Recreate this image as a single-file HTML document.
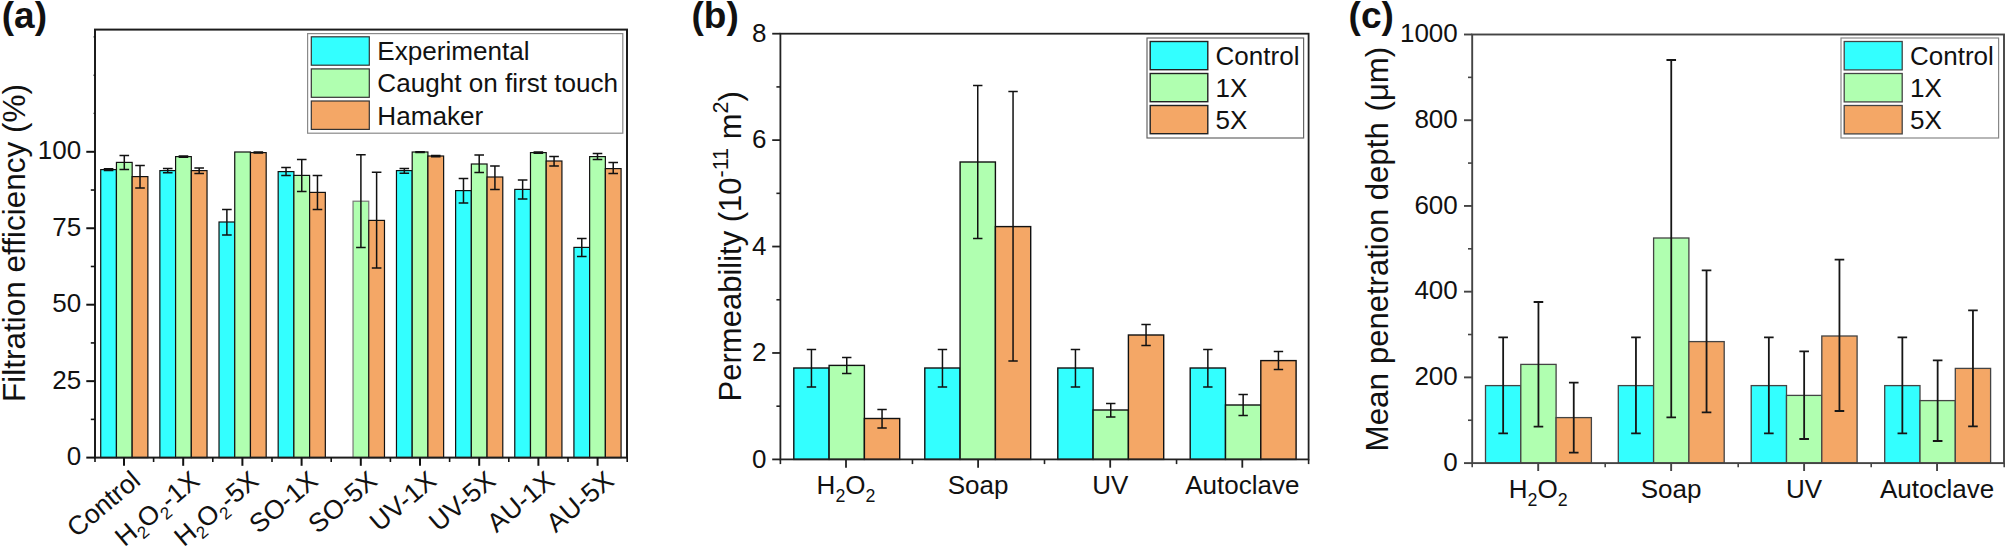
<!DOCTYPE html>
<html lang="en"><head><meta charset="utf-8"><title>Figure</title>
<style>
html,body{margin:0;padding:0;background:#fff;}
svg{display:block;font-family:"Liberation Sans",Arial,sans-serif;fill:#111;}
</style></head><body>
<svg width="2007" height="560" viewBox="0 0 2007 560">
<rect x="0" y="0" width="2007" height="560" fill="#fff"/>
<rect x="100.72" y="169.60" width="15.72" height="288.00" fill="#33ffff" stroke="#111" stroke-width="1.2"/>
<rect x="116.44" y="162.40" width="15.72" height="295.20" fill="#b0ffb0" stroke="#111" stroke-width="1.2"/>
<rect x="132.16" y="176.60" width="15.72" height="281.00" fill="#f4a766" stroke="#111" stroke-width="1.2"/>
<path d="M108.58 168.80V170.60M103.78 168.80h9.6M103.78 170.60h9.6" stroke="#111" stroke-width="1.5" fill="none"/>
<path d="M124.30 155.40V169.40M119.50 155.40h9.6M119.50 169.40h9.6" stroke="#111" stroke-width="1.5" fill="none"/>
<path d="M140.02 165.40V188.00M135.22 165.40h9.6M135.22 188.00h9.6" stroke="#111" stroke-width="1.5" fill="none"/>
<rect x="159.87" y="170.60" width="15.72" height="287.00" fill="#33ffff" stroke="#111" stroke-width="1.2"/>
<rect x="175.59" y="156.60" width="15.72" height="301.00" fill="#b0ffb0" stroke="#111" stroke-width="1.2"/>
<rect x="191.31" y="170.60" width="15.72" height="287.00" fill="#f4a766" stroke="#111" stroke-width="1.2"/>
<path d="M167.73 168.60V172.80M162.93 168.60h9.6M162.93 172.80h9.6" stroke="#111" stroke-width="1.5" fill="none"/>
<path d="M183.45 155.90V157.30M178.65 155.90h9.6M178.65 157.30h9.6" stroke="#111" stroke-width="1.5" fill="none"/>
<path d="M199.17 168.00V173.40M194.37 168.00h9.6M194.37 173.40h9.6" stroke="#111" stroke-width="1.5" fill="none"/>
<rect x="219.02" y="222.00" width="15.72" height="235.60" fill="#33ffff" stroke="#111" stroke-width="1.2"/>
<rect x="234.74" y="152.00" width="15.72" height="305.60" fill="#b0ffb0" stroke="#111" stroke-width="1.2"/>
<rect x="250.46" y="152.60" width="15.72" height="305.00" fill="#f4a766" stroke="#111" stroke-width="1.2"/>
<path d="M226.88 209.60V235.00M222.08 209.60h9.6M222.08 235.00h9.6" stroke="#111" stroke-width="1.5" fill="none"/>
<path d="M258.32 152.10V153.10M253.52 152.10h9.6M253.52 153.10h9.6" stroke="#111" stroke-width="1.5" fill="none"/>
<rect x="278.17" y="171.60" width="15.72" height="286.00" fill="#33ffff" stroke="#111" stroke-width="1.2"/>
<rect x="293.89" y="175.40" width="15.72" height="282.20" fill="#b0ffb0" stroke="#111" stroke-width="1.2"/>
<rect x="309.61" y="192.40" width="15.72" height="265.20" fill="#f4a766" stroke="#111" stroke-width="1.2"/>
<path d="M286.03 167.60V175.40M281.23 167.60h9.6M281.23 175.40h9.6" stroke="#111" stroke-width="1.5" fill="none"/>
<path d="M301.75 159.60V191.40M296.95 159.60h9.6M296.95 191.40h9.6" stroke="#111" stroke-width="1.5" fill="none"/>
<path d="M317.47 175.40V209.60M312.67 175.40h9.6M312.67 209.60h9.6" stroke="#111" stroke-width="1.5" fill="none"/>
<rect x="353.04" y="201.20" width="15.72" height="256.40" fill="#b0ffb0" stroke="#777" stroke-width="1.2"/>
<rect x="368.76" y="220.40" width="15.72" height="237.20" fill="#f4a766" stroke="#111" stroke-width="1.2"/>
<path d="M360.90 154.80V247.60M356.10 154.80h9.6M356.10 247.60h9.6" stroke="#111" stroke-width="1.5" fill="none"/>
<path d="M376.62 172.20V268.00M371.82 172.20h9.6M371.82 268.00h9.6" stroke="#111" stroke-width="1.5" fill="none"/>
<rect x="396.47" y="170.60" width="15.72" height="287.00" fill="#33ffff" stroke="#111" stroke-width="1.2"/>
<rect x="412.19" y="152.00" width="15.72" height="305.60" fill="#b0ffb0" stroke="#111" stroke-width="1.2"/>
<rect x="427.91" y="156.00" width="15.72" height="301.60" fill="#f4a766" stroke="#111" stroke-width="1.2"/>
<path d="M404.33 168.40V173.20M399.53 168.40h9.6M399.53 173.20h9.6" stroke="#111" stroke-width="1.5" fill="none"/>
<path d="M420.05 151.70V152.50M415.25 151.70h9.6M415.25 152.50h9.6" stroke="#111" stroke-width="1.5" fill="none"/>
<path d="M435.77 155.50V156.70M430.97 155.50h9.6M430.97 156.70h9.6" stroke="#111" stroke-width="1.5" fill="none"/>
<rect x="455.62" y="190.60" width="15.72" height="267.00" fill="#33ffff" stroke="#111" stroke-width="1.2"/>
<rect x="471.34" y="164.00" width="15.72" height="293.60" fill="#b0ffb0" stroke="#111" stroke-width="1.2"/>
<rect x="487.06" y="177.00" width="15.72" height="280.60" fill="#f4a766" stroke="#111" stroke-width="1.2"/>
<path d="M463.48 178.40V203.00M458.68 178.40h9.6M458.68 203.00h9.6" stroke="#111" stroke-width="1.5" fill="none"/>
<path d="M479.20 155.00V172.60M474.40 155.00h9.6M474.40 172.60h9.6" stroke="#111" stroke-width="1.5" fill="none"/>
<path d="M494.92 166.00V189.40M490.12 166.00h9.6M490.12 189.40h9.6" stroke="#111" stroke-width="1.5" fill="none"/>
<rect x="514.77" y="189.40" width="15.72" height="268.20" fill="#33ffff" stroke="#111" stroke-width="1.2"/>
<rect x="530.49" y="152.60" width="15.72" height="305.00" fill="#b0ffb0" stroke="#111" stroke-width="1.2"/>
<rect x="546.21" y="161.00" width="15.72" height="296.60" fill="#f4a766" stroke="#111" stroke-width="1.2"/>
<path d="M522.63 180.00V199.00M517.83 180.00h9.6M517.83 199.00h9.6" stroke="#111" stroke-width="1.5" fill="none"/>
<path d="M538.35 152.10V153.30M533.55 152.10h9.6M533.55 153.30h9.6" stroke="#111" stroke-width="1.5" fill="none"/>
<path d="M554.07 156.60V166.00M549.27 156.60h9.6M549.27 166.00h9.6" stroke="#111" stroke-width="1.5" fill="none"/>
<rect x="573.92" y="247.40" width="15.72" height="210.20" fill="#33ffff" stroke="#111" stroke-width="1.2"/>
<rect x="589.64" y="156.60" width="15.72" height="301.00" fill="#b0ffb0" stroke="#111" stroke-width="1.2"/>
<rect x="605.36" y="168.60" width="15.72" height="289.00" fill="#f4a766" stroke="#111" stroke-width="1.2"/>
<path d="M581.78 238.40V256.60M576.98 238.40h9.6M576.98 256.60h9.6" stroke="#111" stroke-width="1.5" fill="none"/>
<path d="M597.50 153.60V159.60M592.70 153.60h9.6M592.70 159.60h9.6" stroke="#111" stroke-width="1.5" fill="none"/>
<path d="M613.22 162.60V173.60M608.42 162.60h9.6M608.42 173.60h9.6" stroke="#111" stroke-width="1.5" fill="none"/>
<rect x="95.0" y="29.6" width="532.0" height="428.0" fill="none" stroke="#1c1c1c" stroke-width="2"/>
<line x1="86.30" y1="457.60" x2="95.00" y2="457.60" stroke="#111" stroke-width="2"/>
<text x="81.20" y="465.10" font-size="26" text-anchor="end" >0</text>
<line x1="86.30" y1="381.15" x2="95.00" y2="381.15" stroke="#111" stroke-width="2"/>
<text x="81.20" y="388.65" font-size="26" text-anchor="end" >25</text>
<line x1="86.30" y1="304.70" x2="95.00" y2="304.70" stroke="#111" stroke-width="2"/>
<text x="81.20" y="312.20" font-size="26" text-anchor="end" >50</text>
<line x1="86.30" y1="228.25" x2="95.00" y2="228.25" stroke="#111" stroke-width="2"/>
<text x="81.20" y="235.75" font-size="26" text-anchor="end" >75</text>
<line x1="86.30" y1="151.80" x2="95.00" y2="151.80" stroke="#111" stroke-width="2"/>
<text x="81.20" y="159.30" font-size="26" text-anchor="end" >100</text>
<line x1="90.80" y1="419.38" x2="95.00" y2="419.38" stroke="#111" stroke-width="1.6"/>
<line x1="90.80" y1="342.93" x2="95.00" y2="342.93" stroke="#111" stroke-width="1.6"/>
<line x1="90.80" y1="266.48" x2="95.00" y2="266.48" stroke="#111" stroke-width="1.6"/>
<line x1="90.80" y1="190.03" x2="95.00" y2="190.03" stroke="#111" stroke-width="1.6"/>
<line x1="93.60" y1="36.90" x2="95.00" y2="36.90" stroke="#111" stroke-width="1.4"/>
<line x1="93.60" y1="75.20" x2="95.00" y2="75.20" stroke="#111" stroke-width="1.4"/>
<line x1="93.60" y1="113.40" x2="95.00" y2="113.40" stroke="#111" stroke-width="1.4"/>
<line x1="124.00" y1="457.60" x2="124.00" y2="465.80" stroke="#111" stroke-width="2"/>
<line x1="153.60" y1="457.60" x2="153.60" y2="462.00" stroke="#111" stroke-width="1.6"/>
<line x1="95.00" y1="457.60" x2="95.00" y2="462.00" stroke="#111" stroke-width="1.6"/>
<text x="142.00" y="483.30" font-size="26.5" text-anchor="end" transform="rotate(-40 142.00 483.30)">Control</text>
<line x1="183.20" y1="457.60" x2="183.20" y2="465.80" stroke="#111" stroke-width="2"/>
<line x1="212.80" y1="457.60" x2="212.80" y2="462.00" stroke="#111" stroke-width="1.6"/>
<text x="201.20" y="483.30" font-size="26.5" text-anchor="end" transform="rotate(-40 201.20 483.30)">H<tspan dy='6' font-size='17'>2</tspan><tspan dy='-6'>O</tspan><tspan dy='6' font-size='17'>2</tspan><tspan dy='-6'>-1X</tspan></text>
<line x1="242.40" y1="457.60" x2="242.40" y2="465.80" stroke="#111" stroke-width="2"/>
<line x1="272.00" y1="457.60" x2="272.00" y2="462.00" stroke="#111" stroke-width="1.6"/>
<text x="260.40" y="483.30" font-size="26.5" text-anchor="end" transform="rotate(-40 260.40 483.30)">H<tspan dy='6' font-size='17'>2</tspan><tspan dy='-6'>O</tspan><tspan dy='6' font-size='17'>2</tspan><tspan dy='-6'>-5X</tspan></text>
<line x1="301.60" y1="457.60" x2="301.60" y2="465.80" stroke="#111" stroke-width="2"/>
<line x1="331.20" y1="457.60" x2="331.20" y2="462.00" stroke="#111" stroke-width="1.6"/>
<text x="319.60" y="483.30" font-size="26.5" text-anchor="end" transform="rotate(-40 319.60 483.30)">SO-1X</text>
<line x1="360.80" y1="457.60" x2="360.80" y2="465.80" stroke="#111" stroke-width="2"/>
<line x1="390.40" y1="457.60" x2="390.40" y2="462.00" stroke="#111" stroke-width="1.6"/>
<text x="378.80" y="483.30" font-size="26.5" text-anchor="end" transform="rotate(-40 378.80 483.30)">SO-5X</text>
<line x1="420.00" y1="457.60" x2="420.00" y2="465.80" stroke="#111" stroke-width="2"/>
<line x1="449.60" y1="457.60" x2="449.60" y2="462.00" stroke="#111" stroke-width="1.6"/>
<text x="438.00" y="483.30" font-size="26.5" text-anchor="end" transform="rotate(-40 438.00 483.30)">UV-1X</text>
<line x1="479.20" y1="457.60" x2="479.20" y2="465.80" stroke="#111" stroke-width="2"/>
<line x1="508.80" y1="457.60" x2="508.80" y2="462.00" stroke="#111" stroke-width="1.6"/>
<text x="497.20" y="483.30" font-size="26.5" text-anchor="end" transform="rotate(-40 497.20 483.30)">UV-5X</text>
<line x1="538.40" y1="457.60" x2="538.40" y2="465.80" stroke="#111" stroke-width="2"/>
<line x1="568.00" y1="457.60" x2="568.00" y2="462.00" stroke="#111" stroke-width="1.6"/>
<text x="556.40" y="483.30" font-size="26.5" text-anchor="end" transform="rotate(-40 556.40 483.30)">AU-1X</text>
<line x1="597.60" y1="457.60" x2="597.60" y2="465.80" stroke="#111" stroke-width="2"/>
<line x1="627.20" y1="457.60" x2="627.20" y2="462.00" stroke="#111" stroke-width="1.6"/>
<text x="615.60" y="483.30" font-size="26.5" text-anchor="end" transform="rotate(-40 615.60 483.30)">AU-5X</text>
<text x="0.00" y="0.00" font-size="31.5" text-anchor="start" transform="translate(24.9 402) rotate(-90)">Filtration efficiency (%)</text>
<rect x="307.6" y="33.6" width="315.2" height="99.6" fill="#fff" stroke="#8a8a8a" stroke-width="1.2"/>
<rect x="311.3" y="36.80" width="58" height="28.4" fill="#33ffff" stroke="#333" stroke-width="1.2"/>
<text x="377.30" y="60.30" font-size="26.1" text-anchor="start" >Experimental</text>
<rect x="311.3" y="68.90" width="58" height="28.4" fill="#b0ffb0" stroke="#333" stroke-width="1.2"/>
<text x="377.30" y="92.40" font-size="26.1" text-anchor="start" >Caught on first touch</text>
<rect x="311.3" y="101.00" width="58" height="28.4" fill="#f4a766" stroke="#333" stroke-width="1.2"/>
<text x="377.30" y="124.50" font-size="26.1" text-anchor="start" >Hamaker</text>
<text x="1.80" y="27.50" font-size="37" text-anchor="start" font-weight="bold">(a)</text>
<rect x="793.80" y="368.00" width="35.30" height="91.40" fill="#33ffff" stroke="#111" stroke-width="1.4"/>
<rect x="829.10" y="365.40" width="35.30" height="94.00" fill="#b0ffb0" stroke="#111" stroke-width="1.4"/>
<rect x="864.40" y="418.50" width="35.30" height="40.90" fill="#f4a766" stroke="#111" stroke-width="1.4"/>
<path d="M811.45 349.60V387.00M806.75 349.60h9.4M806.75 387.00h9.4" stroke="#111" stroke-width="1.5" fill="none"/>
<path d="M846.75 357.60V373.60M842.05 357.60h9.4M842.05 373.60h9.4" stroke="#111" stroke-width="1.5" fill="none"/>
<path d="M882.05 409.50V427.90M877.35 409.50h9.4M877.35 427.90h9.4" stroke="#111" stroke-width="1.5" fill="none"/>
<rect x="924.80" y="368.00" width="35.30" height="91.40" fill="#33ffff" stroke="#111" stroke-width="1.4"/>
<rect x="960.10" y="162.00" width="35.30" height="297.40" fill="#b0ffb0" stroke="#111" stroke-width="1.4"/>
<rect x="995.40" y="226.60" width="35.30" height="232.80" fill="#f4a766" stroke="#111" stroke-width="1.4"/>
<path d="M942.45 349.60V387.00M937.75 349.60h9.4M937.75 387.00h9.4" stroke="#111" stroke-width="1.5" fill="none"/>
<path d="M977.75 85.40V238.60M973.05 85.40h9.4M973.05 238.60h9.4" stroke="#111" stroke-width="1.5" fill="none"/>
<path d="M1013.05 91.40V361.00M1008.35 91.40h9.4M1008.35 361.00h9.4" stroke="#111" stroke-width="1.5" fill="none"/>
<rect x="1057.80" y="368.00" width="35.30" height="91.40" fill="#33ffff" stroke="#111" stroke-width="1.4"/>
<rect x="1093.10" y="410.00" width="35.30" height="49.40" fill="#b0ffb0" stroke="#111" stroke-width="1.4"/>
<rect x="1128.40" y="335.00" width="35.30" height="124.40" fill="#f4a766" stroke="#111" stroke-width="1.4"/>
<path d="M1075.45 349.60V387.00M1070.75 349.60h9.4M1070.75 387.00h9.4" stroke="#111" stroke-width="1.5" fill="none"/>
<path d="M1110.75 403.40V417.00M1106.05 403.40h9.4M1106.05 417.00h9.4" stroke="#111" stroke-width="1.5" fill="none"/>
<path d="M1146.05 324.60V345.60M1141.35 324.60h9.4M1141.35 345.60h9.4" stroke="#111" stroke-width="1.5" fill="none"/>
<rect x="1190.20" y="368.00" width="35.30" height="91.40" fill="#33ffff" stroke="#111" stroke-width="1.4"/>
<rect x="1225.50" y="405.00" width="35.30" height="54.40" fill="#b0ffb0" stroke="#111" stroke-width="1.4"/>
<rect x="1260.80" y="360.60" width="35.30" height="98.80" fill="#f4a766" stroke="#111" stroke-width="1.4"/>
<path d="M1207.85 349.60V387.00M1203.15 349.60h9.4M1203.15 387.00h9.4" stroke="#111" stroke-width="1.5" fill="none"/>
<path d="M1243.15 394.40V415.40M1238.45 394.40h9.4M1238.45 415.40h9.4" stroke="#111" stroke-width="1.5" fill="none"/>
<path d="M1278.45 351.60V369.40M1273.75 351.60h9.4M1273.75 369.40h9.4" stroke="#111" stroke-width="1.5" fill="none"/>
<rect x="780.4" y="33.7" width="528.1999999999999" height="425.7" fill="none" stroke="#222" stroke-width="1.8"/>
<line x1="772.20" y1="459.40" x2="780.40" y2="459.40" stroke="#222" stroke-width="1.8"/>
<text x="766.40" y="467.50" font-size="26" text-anchor="end" >0</text>
<line x1="776.40" y1="406.19" x2="780.40" y2="406.19" stroke="#222" stroke-width="1.6"/>
<line x1="772.20" y1="352.97" x2="780.40" y2="352.97" stroke="#222" stroke-width="1.8"/>
<text x="766.40" y="361.07" font-size="26" text-anchor="end" >2</text>
<line x1="776.40" y1="299.76" x2="780.40" y2="299.76" stroke="#222" stroke-width="1.6"/>
<line x1="772.20" y1="246.55" x2="780.40" y2="246.55" stroke="#222" stroke-width="1.8"/>
<text x="766.40" y="254.65" font-size="26" text-anchor="end" >4</text>
<line x1="776.40" y1="193.34" x2="780.40" y2="193.34" stroke="#222" stroke-width="1.6"/>
<line x1="772.20" y1="140.12" x2="780.40" y2="140.12" stroke="#222" stroke-width="1.8"/>
<text x="766.40" y="148.22" font-size="26" text-anchor="end" >6</text>
<line x1="776.40" y1="86.91" x2="780.40" y2="86.91" stroke="#222" stroke-width="1.6"/>
<line x1="772.20" y1="33.70" x2="780.40" y2="33.70" stroke="#222" stroke-width="1.8"/>
<text x="766.40" y="41.80" font-size="26" text-anchor="end" >8</text>
<line x1="846.00" y1="459.40" x2="846.00" y2="467.70" stroke="#222" stroke-width="1.8"/>
<text x="846.00" y="494.40" font-size="26" text-anchor="middle" >H<tspan dy='7.6' font-size='17.8'>2</tspan><tspan dy='-7.6'>O</tspan><tspan dy='7.6' font-size='17.8'>2</tspan></text>
<line x1="978.10" y1="459.40" x2="978.10" y2="467.70" stroke="#222" stroke-width="1.8"/>
<text x="978.10" y="494.40" font-size="26" text-anchor="middle" >Soap</text>
<line x1="1110.20" y1="459.40" x2="1110.20" y2="467.70" stroke="#222" stroke-width="1.8"/>
<text x="1110.20" y="494.40" font-size="26" text-anchor="middle" >UV</text>
<line x1="1242.30" y1="459.40" x2="1242.30" y2="467.70" stroke="#222" stroke-width="1.8"/>
<text x="1242.30" y="494.40" font-size="26" text-anchor="middle" >Autoclave</text>
<line x1="780.40" y1="459.40" x2="780.40" y2="464.10" stroke="#222" stroke-width="1.6"/>
<line x1="912.45" y1="459.40" x2="912.45" y2="464.10" stroke="#222" stroke-width="1.6"/>
<line x1="1044.50" y1="459.40" x2="1044.50" y2="464.10" stroke="#222" stroke-width="1.6"/>
<line x1="1176.55" y1="459.40" x2="1176.55" y2="464.10" stroke="#222" stroke-width="1.6"/>
<line x1="1308.60" y1="459.40" x2="1308.60" y2="464.10" stroke="#222" stroke-width="1.6"/>
<text x="0.00" y="0.00" font-size="31" text-anchor="start" transform="translate(741 401.4) rotate(-90)">Permeability (10<tspan dy='-13' font-size='21.5'>-11</tspan><tspan dy='13'> m</tspan><tspan dy='-13' font-size='21.5'>2</tspan><tspan dy='13'>)</tspan></text>
<rect x="1147" y="38" width="156.6" height="100" fill="#fff" stroke="#666" stroke-width="1.2"/>
<rect x="1150.2" y="41.50" width="57.6" height="28.2" fill="#33ffff" stroke="#222" stroke-width="1.4"/>
<text x="1215.60" y="64.80" font-size="26" text-anchor="start" >Control</text>
<rect x="1150.2" y="73.50" width="57.6" height="28.2" fill="#b0ffb0" stroke="#222" stroke-width="1.4"/>
<text x="1215.60" y="96.80" font-size="26" text-anchor="start" >1X</text>
<rect x="1150.2" y="105.50" width="57.6" height="28.2" fill="#f4a766" stroke="#222" stroke-width="1.4"/>
<text x="1215.60" y="128.80" font-size="26" text-anchor="start" >5X</text>
<text x="691.50" y="27.50" font-size="37" text-anchor="start" font-weight="bold">(b)</text>
<rect x="1485.50" y="385.60" width="35.30" height="77.50" fill="#33ffff" stroke="#444" stroke-width="1.3"/>
<rect x="1520.80" y="364.40" width="35.30" height="98.70" fill="#b0ffb0" stroke="#444" stroke-width="1.3"/>
<rect x="1556.10" y="417.60" width="35.30" height="45.50" fill="#f4a766" stroke="#444" stroke-width="1.3"/>
<path d="M1503.15 337.40V433.40M1498.35 337.40h9.6M1498.35 433.40h9.6" stroke="#161616" stroke-width="1.8" fill="none"/>
<path d="M1538.45 302.00V426.60M1533.65 302.00h9.6M1533.65 426.60h9.6" stroke="#161616" stroke-width="1.8" fill="none"/>
<path d="M1573.75 382.60V452.60M1568.95 382.60h9.6M1568.95 452.60h9.6" stroke="#161616" stroke-width="1.8" fill="none"/>
<rect x="1618.30" y="385.60" width="35.30" height="77.50" fill="#33ffff" stroke="#444" stroke-width="1.3"/>
<rect x="1653.60" y="238.00" width="35.30" height="225.10" fill="#b0ffb0" stroke="#444" stroke-width="1.3"/>
<rect x="1688.90" y="341.60" width="35.30" height="121.50" fill="#f4a766" stroke="#444" stroke-width="1.3"/>
<path d="M1635.95 337.40V433.40M1631.15 337.40h9.6M1631.15 433.40h9.6" stroke="#161616" stroke-width="1.8" fill="none"/>
<path d="M1671.25 60.00V417.30M1666.45 60.00h9.6M1666.45 417.30h9.6" stroke="#161616" stroke-width="1.8" fill="none"/>
<path d="M1706.55 270.40V412.40M1701.75 270.40h9.6M1701.75 412.40h9.6" stroke="#161616" stroke-width="1.8" fill="none"/>
<rect x="1751.20" y="385.60" width="35.30" height="77.50" fill="#33ffff" stroke="#444" stroke-width="1.3"/>
<rect x="1786.50" y="395.40" width="35.30" height="67.70" fill="#b0ffb0" stroke="#444" stroke-width="1.3"/>
<rect x="1821.80" y="336.00" width="35.30" height="127.10" fill="#f4a766" stroke="#444" stroke-width="1.3"/>
<path d="M1768.85 337.40V433.40M1764.05 337.40h9.6M1764.05 433.40h9.6" stroke="#161616" stroke-width="1.8" fill="none"/>
<path d="M1804.15 351.40V439.00M1799.35 351.40h9.6M1799.35 439.00h9.6" stroke="#161616" stroke-width="1.8" fill="none"/>
<path d="M1839.45 259.60V411.00M1834.65 259.60h9.6M1834.65 411.00h9.6" stroke="#161616" stroke-width="1.8" fill="none"/>
<rect x="1884.70" y="385.60" width="35.30" height="77.50" fill="#33ffff" stroke="#444" stroke-width="1.3"/>
<rect x="1920.00" y="400.60" width="35.30" height="62.50" fill="#b0ffb0" stroke="#444" stroke-width="1.3"/>
<rect x="1955.30" y="368.40" width="35.30" height="94.70" fill="#f4a766" stroke="#444" stroke-width="1.3"/>
<path d="M1902.35 337.40V433.40M1897.55 337.40h9.6M1897.55 433.40h9.6" stroke="#161616" stroke-width="1.8" fill="none"/>
<path d="M1937.65 360.40V441.00M1932.85 360.40h9.6M1932.85 441.00h9.6" stroke="#161616" stroke-width="1.8" fill="none"/>
<path d="M1972.95 310.40V426.40M1968.15 310.40h9.6M1968.15 426.40h9.6" stroke="#161616" stroke-width="1.8" fill="none"/>
<rect x="1472.2" y="34.5" width="531.8" height="428.6" fill="none" stroke="#444" stroke-width="1.9"/>
<line x1="1464.00" y1="463.10" x2="1472.20" y2="463.10" stroke="#444" stroke-width="1.9"/>
<text x="1457.80" y="470.70" font-size="26" text-anchor="end" >0</text>
<line x1="1468.00" y1="420.24" x2="1472.20" y2="420.24" stroke="#444" stroke-width="1.6"/>
<line x1="1464.00" y1="377.38" x2="1472.20" y2="377.38" stroke="#444" stroke-width="1.9"/>
<text x="1457.80" y="384.98" font-size="26" text-anchor="end" >200</text>
<line x1="1468.00" y1="334.52" x2="1472.20" y2="334.52" stroke="#444" stroke-width="1.6"/>
<line x1="1464.00" y1="291.66" x2="1472.20" y2="291.66" stroke="#444" stroke-width="1.9"/>
<text x="1457.80" y="299.26" font-size="26" text-anchor="end" >400</text>
<line x1="1468.00" y1="248.80" x2="1472.20" y2="248.80" stroke="#444" stroke-width="1.6"/>
<line x1="1464.00" y1="205.94" x2="1472.20" y2="205.94" stroke="#444" stroke-width="1.9"/>
<text x="1457.80" y="213.54" font-size="26" text-anchor="end" >600</text>
<line x1="1468.00" y1="163.08" x2="1472.20" y2="163.08" stroke="#444" stroke-width="1.6"/>
<line x1="1464.00" y1="120.22" x2="1472.20" y2="120.22" stroke="#444" stroke-width="1.9"/>
<text x="1457.80" y="127.82" font-size="26" text-anchor="end" >800</text>
<line x1="1468.00" y1="77.36" x2="1472.20" y2="77.36" stroke="#444" stroke-width="1.6"/>
<line x1="1464.00" y1="34.50" x2="1472.20" y2="34.50" stroke="#444" stroke-width="1.9"/>
<text x="1457.80" y="42.10" font-size="26" text-anchor="end" >1000</text>
<line x1="1538.20" y1="463.10" x2="1538.20" y2="471.00" stroke="#444" stroke-width="1.9"/>
<text x="1538.20" y="498.30" font-size="26" text-anchor="middle" >H<tspan dy='7.6' font-size='17.8'>2</tspan><tspan dy='-7.6'>O</tspan><tspan dy='7.6' font-size='17.8'>2</tspan></text>
<line x1="1671.15" y1="463.10" x2="1671.15" y2="471.00" stroke="#444" stroke-width="1.9"/>
<text x="1671.15" y="498.30" font-size="26" text-anchor="middle" >Soap</text>
<line x1="1804.10" y1="463.10" x2="1804.10" y2="471.00" stroke="#444" stroke-width="1.9"/>
<text x="1804.10" y="498.30" font-size="26" text-anchor="middle" >UV</text>
<line x1="1937.05" y1="463.10" x2="1937.05" y2="471.00" stroke="#444" stroke-width="1.9"/>
<text x="1937.05" y="498.30" font-size="26" text-anchor="middle" >Autoclave</text>
<line x1="1472.20" y1="463.10" x2="1472.20" y2="467.30" stroke="#444" stroke-width="1.6"/>
<line x1="1605.20" y1="463.10" x2="1605.20" y2="467.30" stroke="#444" stroke-width="1.6"/>
<line x1="1738.20" y1="463.10" x2="1738.20" y2="467.30" stroke="#444" stroke-width="1.6"/>
<line x1="1871.20" y1="463.10" x2="1871.20" y2="467.30" stroke="#444" stroke-width="1.6"/>
<line x1="2004.20" y1="463.10" x2="2004.20" y2="467.30" stroke="#444" stroke-width="1.6"/>
<text x="0.00" y="0.00" font-size="31.4" text-anchor="start" transform="translate(1388 451.5) rotate(-90)">Mean</text>
<text x="0.00" y="0.00" font-size="31.0" text-anchor="start" transform="translate(1388 364.0) rotate(-90)">penetration</text>
<text x="0.00" y="0.00" font-size="31.2" text-anchor="start" transform="translate(1388 200.3) rotate(-90)">depth</text>
<text x="0.00" y="0.00" font-size="31.2" text-anchor="start" transform="translate(1388 111.5) rotate(-90)">(μm)</text>
<rect x="1841" y="38" width="157.6" height="100" fill="#fff" stroke="#888" stroke-width="1.2"/>
<rect x="1844.2" y="41.50" width="58" height="28.4" fill="#33ffff" stroke="#444" stroke-width="1.3"/>
<text x="1910.00" y="64.80" font-size="26" text-anchor="start" >Control</text>
<rect x="1844.2" y="73.50" width="58" height="28.4" fill="#b0ffb0" stroke="#444" stroke-width="1.3"/>
<text x="1910.00" y="96.80" font-size="26" text-anchor="start" >1X</text>
<rect x="1844.2" y="105.50" width="58" height="28.4" fill="#f4a766" stroke="#444" stroke-width="1.3"/>
<text x="1910.00" y="128.80" font-size="26" text-anchor="start" >5X</text>
<text x="1348.60" y="27.50" font-size="37" text-anchor="start" font-weight="bold">(c)</text>
</svg>
</body></html>
